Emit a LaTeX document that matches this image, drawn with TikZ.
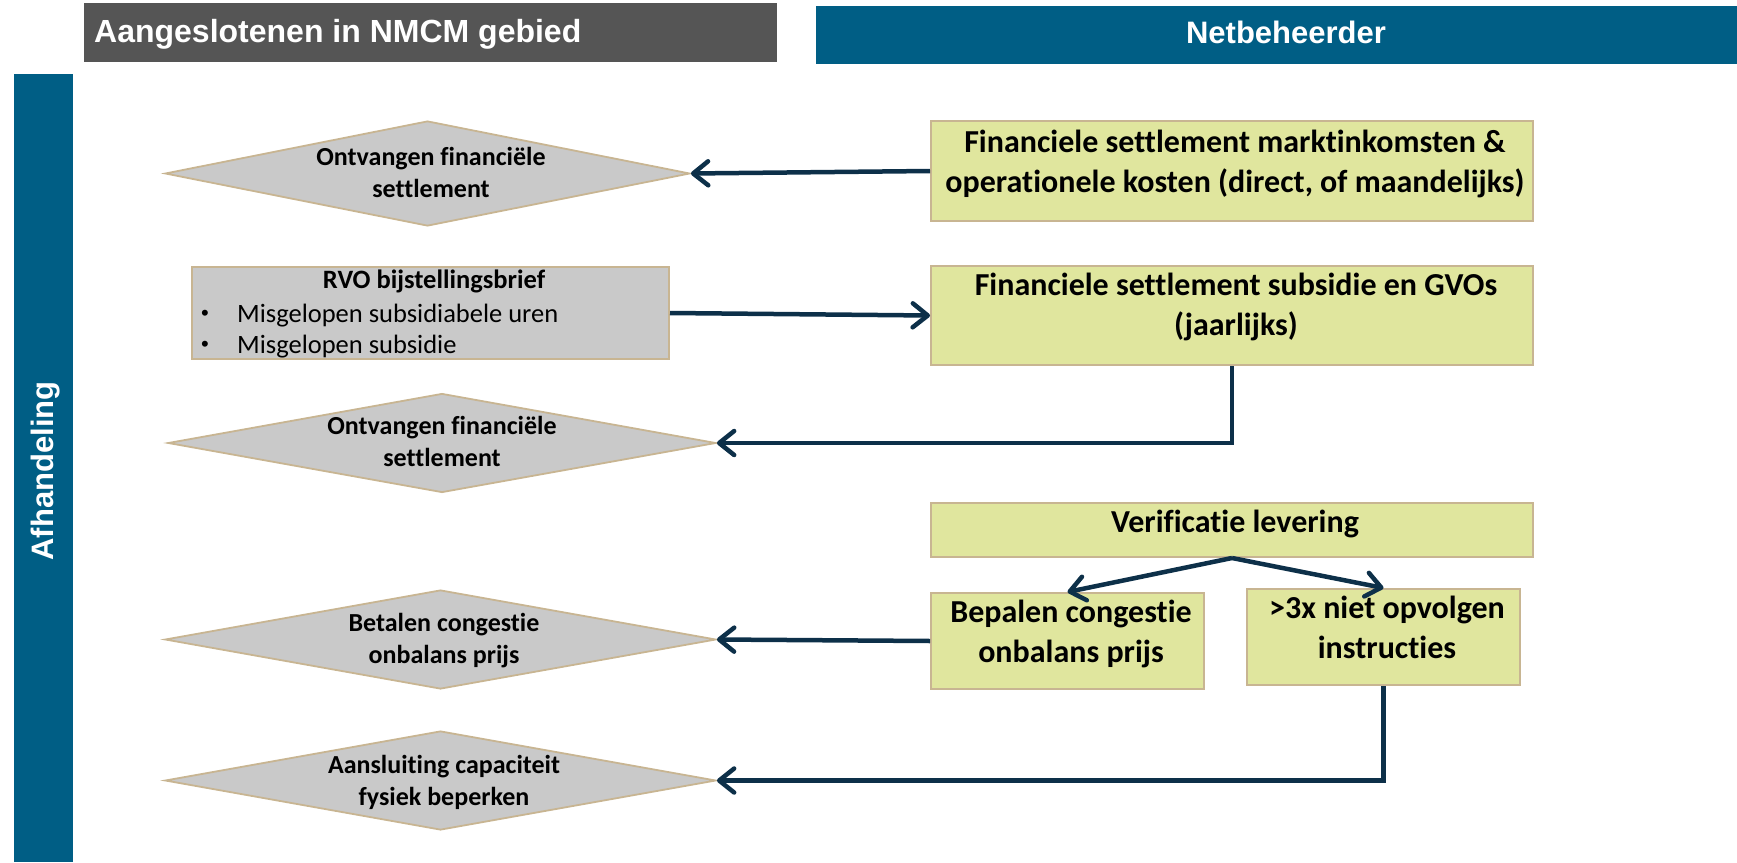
\documentclass[tikz,border=0pt]{standalone}
\usepackage{fontspec}
\setmainfont{Carlito}[Ligatures=NoCommon]
\newfontfamily\hdrfont{Liberation Sans}
\usetikzlibrary{arrows.meta,shapes.geometric}
\definecolor{hdrgray}{HTML}{555555}
\definecolor{hdrblue}{HTML}{005E85}
\definecolor{dgray}{HTML}{C9C9C9}
\definecolor{tanline}{HTML}{C8B592}
\definecolor{boxfill}{HTML}{E0E69E}
\definecolor{navy}{HTML}{0D3049}
\begin{document}
\begin{tikzpicture}[x=1pt,y=1pt,
  decis/.style={diamond, draw=tanline, line width=1.8pt, fill=dgray, inner sep=0pt},
  stepbox/.style={rectangle, draw=tanline, line width=2pt, fill=boxfill, inner sep=0pt},
  boxtxt/.style={font=\bfseries\fontsize{32}{40}\selectfont, align=center, inner sep=0pt, anchor=base},
  dtxt/.style={font=\bfseries\fontsize{26}{32}\selectfont, align=center, inner sep=0pt, anchor=base},
  rvotxt/.style={font=\fontsize{26.5}{31}\selectfont, inner sep=0pt},
  bultxt/.style={font=\hdrfont\fontsize{22}{26}\selectfont, inner sep=0pt},
  hdrtxt/.style={font=\hdrfont\bfseries\fontsize{31}{36}\selectfont, text=white, inner sep=0pt},
  arr/.style={draw=navy, line width=4.5pt, -{Straight Barb[length=15pt,width=24pt,round]}}
]
\useasboundingbox (0,0) rectangle (1737,-862);
% headers
\fill[hdrgray] (84,-3) rectangle (777,-62);
\node[hdrtxt, font=\hdrfont\bfseries\fontsize{32}{36}\selectfont, anchor=base west] (h1) at (94,-42) {Aangeslotenen in NMCM gebied};
\fill[hdrblue] (816,-6) rectangle (1737,-64);
\node[hdrtxt, anchor=base] (h2) at (1286,-43) {Netbeheerder};
\fill[hdrblue] (14,-74) rectangle (73,-862);
\node[hdrtxt, rotate=90, anchor=base] (h3) at (53,-471) {Afhandeling};
% diamonds
\node[decis, minimum width=525pt, minimum height=105pt] (d1) at (427.5,-173.5) {};
\node[dtxt] (t1) at (431,-197) {Ontvangen financiële\\settlement};
\node[decis, minimum width=548pt, minimum height=99pt] (d2) at (442,-443) {};
\node[dtxt] (t2) at (442,-466) {Ontvangen financiële\\settlement};
\node[decis, minimum width=551pt, minimum height=99pt] (d3) at (440.5,-639.5) {};
\node[dtxt] (t3) at (444,-663) {Betalen congestie\\onbalans prijs};
\node[decis, minimum width=551pt, minimum height=99pt] (d4) at (440.5,-780.5) {};
\node[dtxt] (t4) at (444,-805) {Aansluiting capaciteit\\fysiek beperken};
% RVO box
\node[rectangle, draw=tanline, line width=2pt, fill=dgray, minimum width=477pt, minimum height=92pt, inner sep=0pt] (rvo) at (430.5,-313) {};
\node[rvotxt, font=\bfseries\fontsize{26.5}{31}\selectfont, anchor=base] (rvot) at (434,-288) {RVO bijstellingsbrief};
\node[bultxt, anchor=base] (b1) at (205,-320) {•};
\node[rvotxt, anchor=base west] (r1) at (237,-322) {Misgelopen subsidiabele uren};
\node[bultxt, anchor=base] (b2) at (205,-351) {•};
\node[rvotxt, anchor=base west] (r2) at (237,-353) {Misgelopen subsidie};
% right boxes
\node[stepbox, minimum width=602pt, minimum height=100pt] (f1) at (1232,-171) {};
\node[boxtxt] (f1t) at (1235,-192) {Financiele settlement marktinkomsten \&\\operationele kosten (direct, of maandelijks)};
\node[stepbox, minimum width=602pt, minimum height=99pt] (f2) at (1232,-315.5) {};
\node[boxtxt] (f2t) at (1236,-335) {Financiele settlement subsidie en GVOs\\(jaarlijks)};
\node[stepbox, minimum width=602pt, minimum height=54pt] (v) at (1232,-530) {};
\node[boxtxt] (vt) at (1235,-532) {Verificatie levering};
\node[stepbox, minimum width=273pt, minimum height=96pt] (b) at (1067.5,-641) {};
\node[boxtxt] (bt) at (1071,-662) {Bepalen congestie\\onbalans prijs};
\node[stepbox, minimum width=273pt, minimum height=96pt] (i) at (1383.5,-637) {};
\node[boxtxt] (it) at (1387,-658) {>3x niet opvolgen\\instructies};
% connectors
\draw[arr] (f1.west) -- (d1.east);
\draw[arr] (rvo.east) -- (f2.west);
\draw[arr] (f2.south) |- (d2.east);
\draw[arr] (v.south) -- (b.north);
\draw[arr] (v.south) -- (i.north);
\draw[arr] (b.west) -- (d3.east);
\draw[arr] (i.south) |- (d4.east);
\end{tikzpicture}
\end{document}
